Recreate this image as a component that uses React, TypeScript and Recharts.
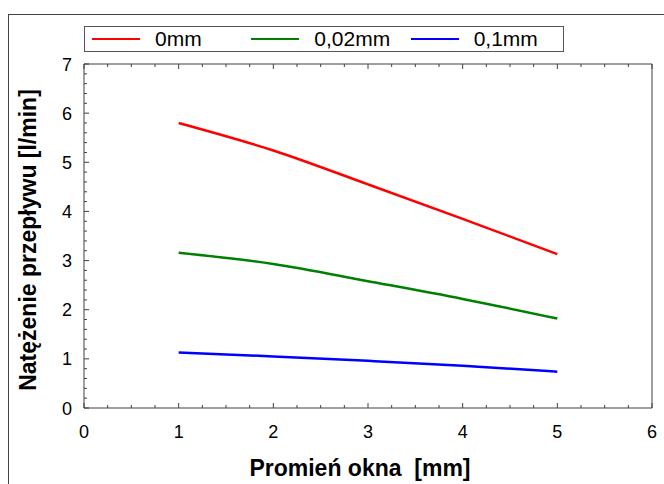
import React from 'react';
import { LineChart, Line, XAxis, YAxis, Legend } from 'recharts';

const radius = [1, 2, 3, 4, 5];
const flow0mm = [5.8, 5.24, 4.55, 3.85, 3.13];
const flow002mm = [3.16, 2.93, 2.58, 2.22, 1.82];
const flow01mm = [1.13, 1.05, 0.96, 0.86, 0.74];

const seriesNames = ['0mm', '0,02mm', '0,1mm'];
const seriesColors = ['#ff0000', '#008000', '#0000ff'];

const xTicks = [0, 0.25, 0.5, 0.75, 1, 1.25, 1.5, 1.75, 2, 2.25, 2.5, 2.75, 3, 3.25, 3.5, 3.75, 4, 4.25, 4.5, 4.75, 5, 5.25, 5.5, 5.75, 6];
const yTicks = [0, 0.2, 0.4, 0.6, 0.8, 1, 1.2, 1.4, 1.6, 1.8, 2, 2.2, 2.4, 2.6, 2.8, 3, 3.2, 3.4, 3.6, 3.8, 4, 4.2, 4.4, 4.6, 4.8, 5, 5.2, 5.4, 5.6, 5.8, 6, 6.2, 6.4, 6.6, 6.8, 7];

const xTitle = 'Promień okna  [mm]';
const yTitle = 'Natężenie przepływu [l/min]';

const data = radius.map((r, i) => ({
  r,
  s0: flow0mm[i],
  s1: flow002mm[i],
  s2: flow01mm[i],
}));

const FONT = '"Liberation Sans", Arial, sans-serif';
const AXIS = '#404040';

const isMajor = (v: number) => Math.abs(v - Math.round(v)) < 1e-6;

const BottomTick = (props: any) => {
  const { x, y, payload } = props;
  const major = isMajor(payload.value);
  return (
    <g>
      <line x1={x} x2={x} y1={y} y2={y - (major ? 5 : 3)} stroke={AXIS} />
      {major && (
        <text x={x} y={y + 30} textAnchor="middle" fontFamily={FONT} fontSize={18} fill="#000">
          {Math.round(payload.value)}
        </text>
      )}
    </g>
  );
};

const TopTick = (props: any) => {
  const { x, y, payload } = props;
  const major = isMajor(payload.value);
  return <line x1={x} x2={x} y1={y} y2={y + (major ? 5 : 3)} stroke={AXIS} />;
};

const LeftTick = (props: any) => {
  const { x, y, payload } = props;
  const major = isMajor(payload.value);
  return (
    <g>
      <line x1={x} x2={x + (major ? 5 : 3)} y1={y} y2={y} stroke={AXIS} />
      {major && (
        <text x={x - 12} y={y + 6.5} textAnchor="end" fontFamily={FONT} fontSize={18} fill="#000">
          {Math.round(payload.value)}
        </text>
      )}
    </g>
  );
};

const RightTick = (props: any) => {
  const { x, y, payload } = props;
  const major = isMajor(payload.value);
  return <line x1={x} x2={x - (major ? 5 : 3)} y1={y} y2={y} stroke={AXIS} />;
};

const XTitle = () => (
  <text
    x={360}
    y={476}
    textAnchor="middle"
    fontFamily={FONT}
    fontWeight="bold"
    fontSize={23}
    fill="#000"
    style={{ whiteSpace: 'pre' }}
  >
    {xTitle}
  </text>
);

const YTitle = () => {
  const cx = 28;
  const cy = 240;
  return (
    <text
      x={cx}
      y={cy}
      transform={`rotate(-90, ${cx}, ${cy})`}
      textAnchor="middle"
      dominantBaseline="central"
      fontFamily={FONT}
      fontWeight="bold"
      fontSize={23}
      fill="#000"
    >
      {yTitle}
    </text>
  );
};

const LegendBox = () => (
  <div
    style={{
      width: 478,
      height: 24,
      border: '1px solid #555',
      background: '#fff',
      display: 'flex',
      alignItems: 'center',
      fontFamily: FONT,
      fontSize: 21,
      color: '#000',
      boxSizing: 'content-box',
    }}
  >
    {seriesNames.map((name, i) => (
      <div key={name} style={{ width: 160, display: 'flex', alignItems: 'center' }}>
        <div style={{ marginLeft: 7, width: 48, height: 2.5, background: seriesColors[i] }} />
        <span style={{ marginLeft: 15, lineHeight: '24px' }}>{name}</span>
      </div>
    ))}
  </div>
);

export default function App() {
  return (
    <div style={{ position: 'absolute', left: 0, top: 0, width: 664, height: 484, background: '#fff' }}>
      <div
        style={{
          position: 'absolute',
          left: 8,
          top: 14,
          width: 655,
          height: 469,
          borderLeft: '1px solid #444',
          borderTop: '1px solid #444',
        }}
      />
      <LineChart
        width={664}
        height={484}
        data={data}
        margin={{ top: 63, right: 11, bottom: 0, left: 0 }}
        style={{ position: 'absolute', left: 0, top: 0 }}
      >
        <XAxis xAxisId="b" dataKey="r" type="number" domain={[0, 6]} ticks={xTicks} interval={0} height={76}
          tick={BottomTick} tickLine={false} tickSize={0} tickMargin={0} axisLine={{ stroke: AXIS }}
          label={{ content: XTitle }} />
        <XAxis xAxisId="t" orientation="top" dataKey="r" type="number" domain={[0, 6]} ticks={xTicks} interval={0} height={1}
          tick={TopTick} tickLine={false} tickSize={0} tickMargin={0} axisLine={{ stroke: AXIS }} />
        <YAxis yAxisId="l" type="number" domain={[0, 7]} ticks={yTicks} interval={0} width={84}
          tick={LeftTick} tickLine={false} tickSize={0} tickMargin={0} axisLine={{ stroke: AXIS }}
          label={{ content: YTitle }} />
        <YAxis yAxisId="r" orientation="right" type="number" domain={[0, 7]} ticks={yTicks} interval={0} width={1}
          tick={RightTick} tickLine={false} tickSize={0} tickMargin={0} axisLine={{ stroke: AXIS }} />
        <Legend content={LegendBox} layout="horizontal" verticalAlign="middle" align="center"
          wrapperStyle={{ position: 'absolute', left: 84, top: 26, width: 480, height: 26 }} />
        {['s0', 's1', 's2'].map((k, i) => (
          <Line key={k} xAxisId="b" yAxisId="l" type="monotone" dataKey={k} name={seriesNames[i]}
            stroke={seriesColors[i]} strokeWidth={2.5} dot={false} isAnimationActive={false} />
        ))}
      </LineChart>
    </div>
  );
}
